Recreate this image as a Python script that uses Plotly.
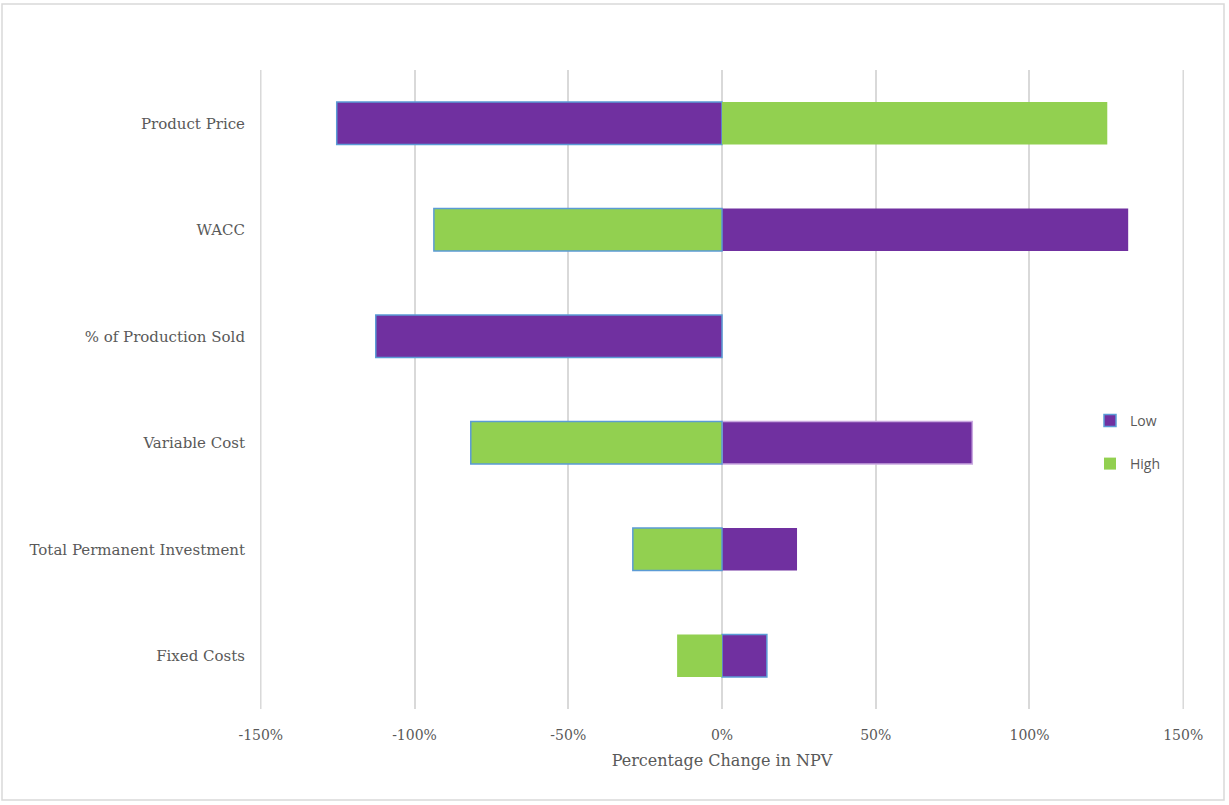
import plotly.graph_objects as go

# Sensitivity of NPV to each input (percentage change in NPV)
categories = ["Product Price", "WACC", "% of Production Sold",
              "Variable Cost", "Total Permanent Investment", "Fixed Costs"]
low_values = [-125.3, 132.1, -112.6, 81.4, 24.4, 14.6]
high_values = [125.3, -93.7, 0.0, -81.7, -29.0, -14.6]
tick_values = [-150, -100, -50, 0, 50, 100, 150]
tick_labels = ["-150%", "-100%", "-50%", "0%", "50%", "100%", "150%"]

PURPLE = "#7030A0"
GREEN = "#92D050"
EDGE = "#5B9BD5"
GRID = "#D9D9D9"
NONE = "rgba(0,0,0,0)"

low_edges = [EDGE, NONE, EDGE, "#C9A8E0", NONE, EDGE]
high_edges = [NONE, EDGE, NONE, EDGE, EDGE, NONE]

serif = "DejaVu Serif"
sans = "Open Sans"

fig = go.Figure()
fig.add_trace(go.Bar(
    y=categories, x=low_values, orientation="h", name="Low",
    marker=dict(color=PURPLE, line=dict(color=low_edges, width=1.5)),
    width=0.4, legend="legend",
))
fig.add_trace(go.Bar(
    y=categories, x=high_values, orientation="h", name="High",
    marker=dict(color=GREEN, line=dict(color=high_edges, width=1.5)),
    width=0.4, legend="legend2",
))

L, R, T, B = 260, 45, 70, 96
W, H = 1229, 805
pw, ph = W - L - R, H - T - B

# gridlines at the two ends of the axis
edge_grid = [dict(type="line", xref="x", yref="paper", x0=v, x1=v, y0=0, y1=1,
                  line=dict(color=GRID, width=1.5), layer="below")
             for v in (tick_values[0], tick_values[-1])]

legend_x = (1090 - L) / pw
fig.update_layout(
    width=W, height=H,
    margin=dict(l=L, r=R, t=T, b=B),
    barmode="relative",
    plot_bgcolor="white", paper_bgcolor="white",
    showlegend=True,
    legend=dict(x=legend_x, y=(H - B - 421) / ph, yanchor="middle",
                xanchor="left", font=dict(family=sans, size=14, color="#595959"),
                bgcolor="rgba(0,0,0,0)", itemwidth=30),
    legend2=dict(x=legend_x, y=(H - B - 464) / ph, yanchor="middle",
                 xanchor="left", font=dict(family=sans, size=14, color="#595959"),
                 bgcolor="rgba(0,0,0,0)", itemwidth=30),
    xaxis=dict(range=[-150.25, 150.25], tickvals=tick_values, ticktext=tick_labels,
               showgrid=True, gridcolor=GRID, gridwidth=1.5,
               zeroline=False, showline=False, ticks="",
               ticklabelstandoff=16,
               tickfont=dict(family=serif, size=14, color="#595959"),
               title=dict(text="Percentage Change in NPV", standoff=12,
                          font=dict(family=serif, size=16, color="#595959"))),
    yaxis=dict(categoryorder="array", categoryarray=categories[::-1],
               showgrid=False, zeroline=False, showline=False, ticks="",
               ticklabelstandoff=14,
               tickfont=dict(family=serif, size=15, color="#595959")),
    shapes=[dict(type="rect", xref="paper", yref="paper",
                 x0=(2 - L) / pw, x1=(1224 - L) / pw,
                 y0=(H - B - 800) / ph, y1=(H - B - 4) / ph,
                 line=dict(color=GRID, width=1.5), fillcolor=NONE,
                 layer="below")] + edge_grid,
)

fig.write_html("out.html")
